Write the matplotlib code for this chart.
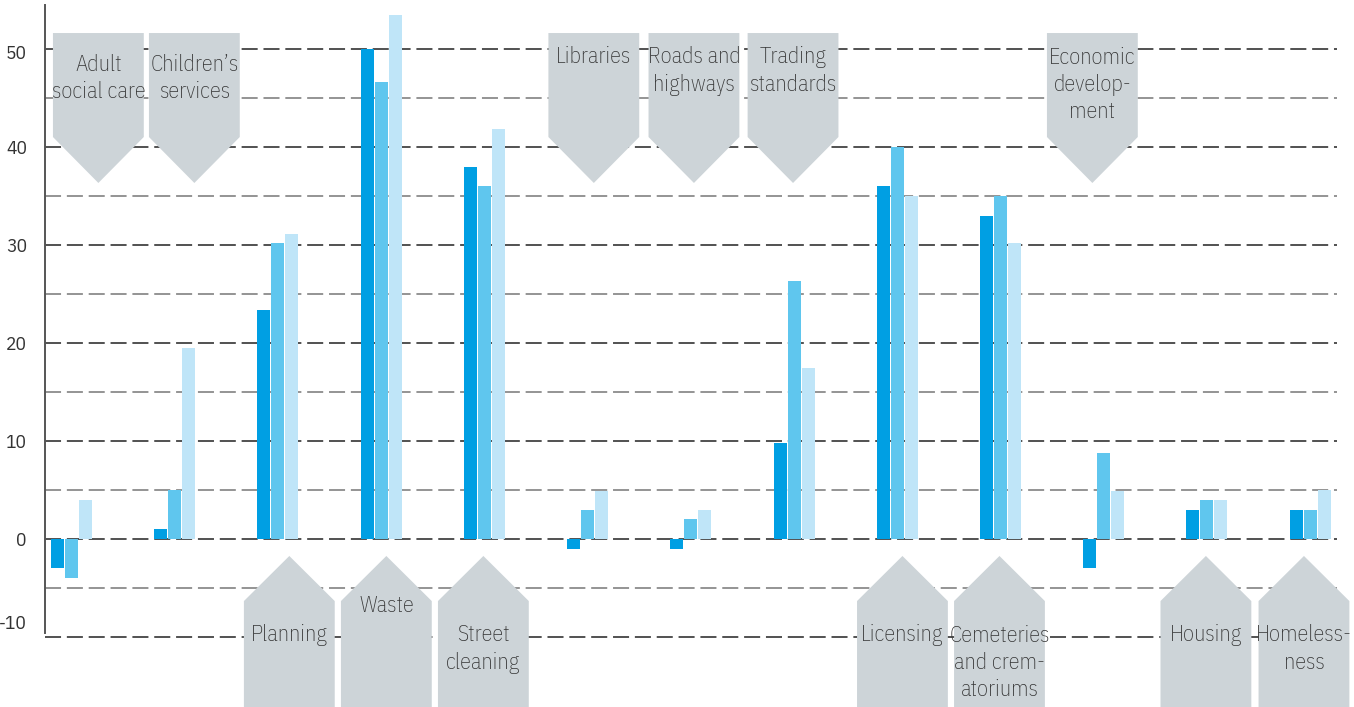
import numpy as np
import matplotlib.pyplot as plt
from matplotlib.patches import Polygon
from matplotlib.transforms import ScaledTranslation

# DATA

categories = ["Adult\nsocial care", "Children\u2019s\nservices", "Planning", "Waste",
              "Street\ncleaning", "Libraries", "Roads and\nhighways", "Trading\nstandards",
              "Licensing", "Cemeteries\nand crem-\natoriums", "Economic\ndevelop-\nment",
              "Housing", "Homeless-\nness"]

series_a = [-3, 1, 23.4, 50, 38, -1, -1, 9.8, 36, 33, -3, 3, 3]
series_b = [-4, 5, 30.2, 46.6, 36, 3, 2, 26.3, 40, 35, 8.8, 4, 3]
series_c = [4, 19.5, 31.1, 53.5, 41.8, 4.9, 3, 17.5, 35, 30.2, 4.9, 4, 5]

label_on_top = [True, True, False, False, False, True, True, True, False, False, True, False, False]

yticks = [-10, 0, 10, 20, 30, 40, 50]

# LAYOUT

label_x = [0.26, 1.19, 2.11, 3.05, 3.99, 5.06, 6.03, 6.99, 8.05, 8.99, 9.89, 10.99, 11.94]
label_y = [47.0, 47.0, -9.8, -6.84, -11.22, 49.2, 47.76, 47.76, -9.8, -12.65, 46.33, -9.8, -11.22]

colors = ["#009fe3", "#5fc6ee", "#bfe5f8"]
box_color = "#cdd4d8"
text_color = "#333333"
font = ["IBM Plex Sans Condensed", "DejaVu Sans"]

W, H = 1354, 707
fig = plt.figure(figsize=(W / 100, H / 100), dpi=100)
ax = fig.add_axes([45 / W, 0, (1337 - 45) / W, 702 / H])

ax.set_xlim(-0.257, 12.26)
ax.set_ylim(-17.14, 54.49)

x = np.arange(len(categories))
step = 0.1357
bw = 0.126

# gridlines
for v in np.arange(-10, 51, 5):
    col = "#222222" if v % 10 == 0 else "#777777"
    ax.axhline(v, color=col, lw=1.1, dashes=(10.5, 3.8), zorder=1)

ax.bar(x - step, series_a, width=bw, color=colors[0], zorder=2)
ax.bar(x, series_b, width=bw, color=colors[1], zorder=2)
ax.bar(x + step, series_c, width=bw, color=colors[2], zorder=2)

# arrow-shaped label boxes
hw = 0.44
for i, name in enumerate(categories):
    cx = label_x[i]
    if label_on_top[i]:
        top, shoulder, tip = 51.63, 41.02, 36.33
        pts = [(cx - hw, top), (cx + hw, top), (cx + hw, shoulder), (cx, tip), (cx - hw, shoulder)]
    else:
        tip, shoulder, bottom = -1.73, -6.33, -20
        pts = [(cx, tip), (cx + hw, shoulder), (cx + hw, bottom), (cx - hw, bottom), (cx - hw, shoulder)]
    ax.add_patch(Polygon(pts, closed=True, facecolor=box_color, edgecolor="none",
                         zorder=3, clip_on=False))
    ax.text(cx, label_y[i], name, ha="center", va="center", fontsize=16, weight="light",
            family=font, color=text_color, linespacing=1.3, zorder=4, clip_on=False)

for s in ["top", "right", "bottom"]:
    ax.spines[s].set_visible(False)
ax.spines["left"].set_color("#555555")
ax.spines["left"].set_linewidth(1.4)
ax.spines["left"].set_bounds(-9.6, 54.49)

ax.set_xticks([])
ax.set_yticks(yticks)
ax.set_yticklabels([str(t) for t in yticks], fontsize=14, family=font, color=text_color)
ax.tick_params(axis="y", length=0, pad=13)
for lab in ax.get_yticklabels():
    if lab.get_text() == "-10":
        lab.set_transform(lab.get_transform() + ScaledTranslation(0, 0.15, fig.dpi_scale_trans))
    elif lab.get_text() == "50":
        lab.set_transform(lab.get_transform() + ScaledTranslation(0, -0.03, fig.dpi_scale_trans))

fig.savefig("out.png", dpi=100)
